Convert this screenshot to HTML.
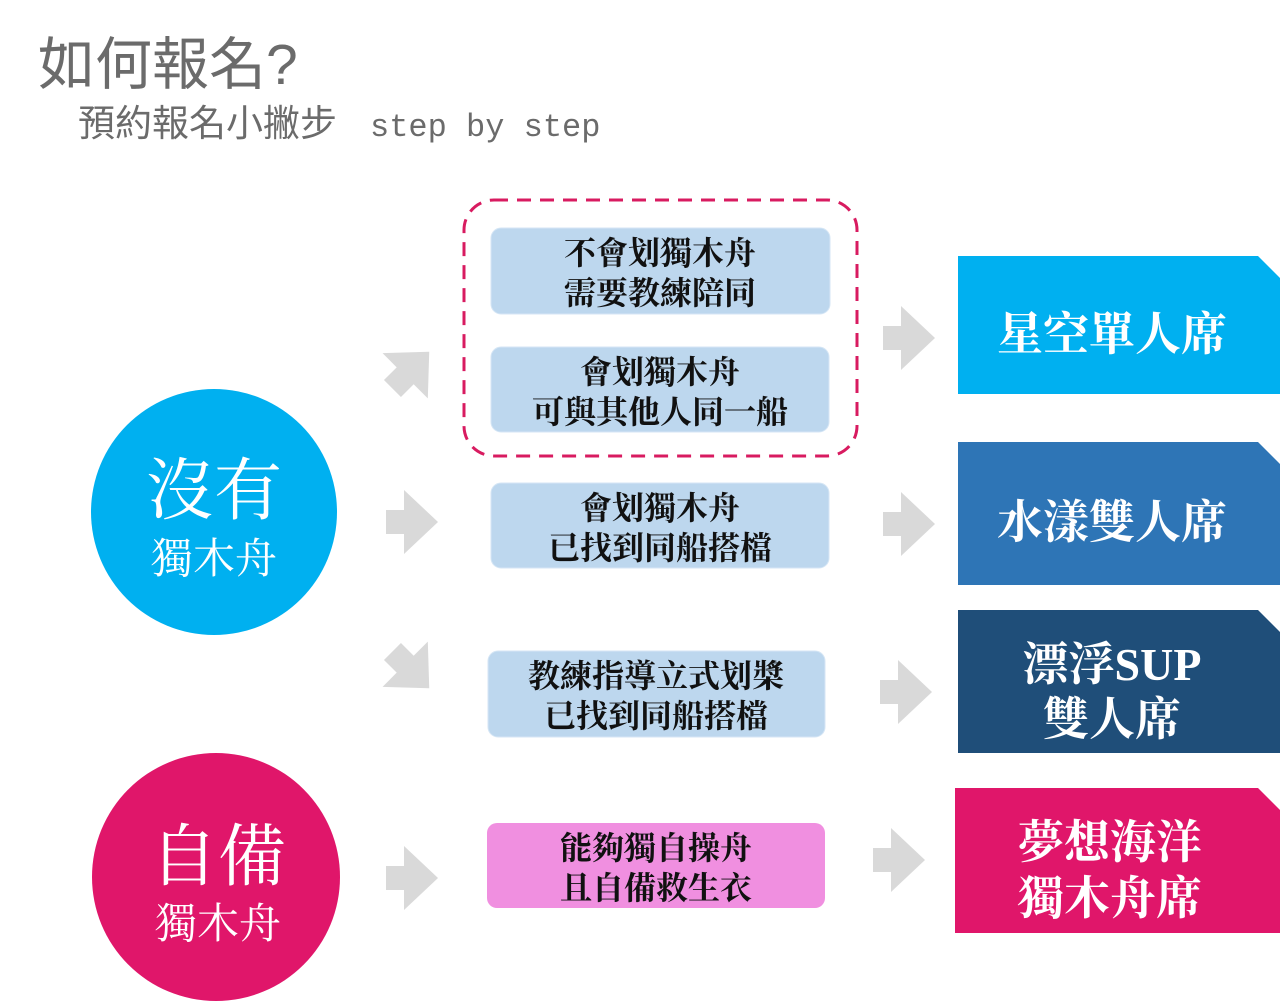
<!DOCTYPE html>
<html><head><meta charset="utf-8"><style>
html,body{margin:0;padding:0;background:#fff;}
svg{display:block}
.t{font-family:"Liberation Serif","Noto Serif CJK SC","Noto Sans CJK TC",serif;}
</style></head><body>
<svg width="1280" height="1001" viewBox="0 0 1280 1001" xmlns="http://www.w3.org/2000/svg">
<text x="38" y="84" font-family="'Liberation Sans','Noto Sans CJK TC',sans-serif" font-size="57" fill="#6b6b6b">如何報名?</text>
<text x="78" y="136" font-family="'Liberation Sans','Noto Sans CJK TC',sans-serif" font-size="37" fill="#6b6b6b">預約報名小撇步<tspan x="370" font-family="'Liberation Mono',monospace" font-size="32">step by step</tspan></text>

<rect x="464" y="200" width="393" height="256" rx="30" fill="none" stroke="#d81b60" stroke-width="3" stroke-dasharray="14,9"/>

<g fill="#bdd7ee" stroke="#d6e6f5" stroke-width="1">
<rect x="491" y="228" width="339" height="86" rx="10"/>
<rect x="491" y="347" width="338" height="85" rx="10"/>
<rect x="491" y="483" width="338" height="85" rx="10"/>
<rect x="488" y="651" width="337" height="86" rx="10"/>
</g>
<rect x="487" y="823" width="338" height="85" rx="10" fill="#f08fe0"/>

<g class="t" font-size="32" fill="#111" text-anchor="middle" font-weight="bold">
<text x="660" y="264">不會划獨木舟</text><text x="660" y="304">需要教練陪同</text>
<text x="660" y="383">會划獨木舟</text><text x="660" y="423">可與其他人同一船</text>
<text x="660" y="519">會划獨木舟</text><text x="660" y="559">已找到同船搭檔</text>
<text x="656" y="687">教練指導立式划槳</text><text x="656" y="727">已找到同船搭檔</text>
<text x="656" y="859">能夠獨自操舟</text><text x="656" y="899">且自備救生衣</text>
</g>

<circle cx="214" cy="512" r="123" fill="#00b0f0"/>
<circle cx="216" cy="877" r="124" fill="#e0166a"/>
<g class="t" fill="#fff" text-anchor="middle">
<text x="214" y="514" font-size="68">沒有</text>
<text x="214" y="573" font-size="42">獨木舟</text>
<text x="218" y="880" font-size="68">自備</text>
<text x="218" y="938" font-size="42">獨木舟</text>
</g>

<g fill="#d9d9d9">
<polygon points="0,-12 18,-12 18,-32 52,0 18,32 18,12 0,12" transform="translate(386,522)"/>
<polygon points="0,-12 18,-12 18,-32 52,0 18,32 18,12 0,12" transform="translate(386,878)"/>
<polygon points="0,-12 18,-12 18,-32 52,0 18,32 18,12 0,12" transform="translate(396,385) rotate(-45) translate(-5,0)"/>
<polygon points="0,-12 18,-12 18,-32 52,0 18,32 18,12 0,12" transform="translate(396,655) rotate(45) translate(-5,0)"/>
<polygon points="0,-12 18,-12 18,-32 52,0 18,32 18,12 0,12" transform="translate(883,338)"/>
<polygon points="0,-12 18,-12 18,-32 52,0 18,32 18,12 0,12" transform="translate(883,524)"/>
<polygon points="0,-12 18,-12 18,-32 52,0 18,32 18,12 0,12" transform="translate(880,692)"/>
<polygon points="0,-12 18,-12 18,-32 52,0 18,32 18,12 0,12" transform="translate(873,860)"/>
</g>

<polygon points="958,256 1258,256 1280,278 1280,394 958,394" fill="#00b0f0"/>
<polygon points="958,442 1258,442 1280,464 1280,585 958,585" fill="#2e75b6"/>
<polygon points="958,610 1258,610 1280,632 1280,753 958,753" fill="#1f4e79"/>
<polygon points="955,788 1258,788 1280,810 1280,933 955,933" fill="#e0166a"/>
<g class="t" fill="#fff" font-size="46" text-anchor="middle" font-weight="bold">
<text x="1112" y="350">星空單人席</text>
<text x="1112" y="538">水漾雙人席</text>
<text x="1112" y="680">漂浮SUP</text>
<text x="1112" y="735">雙人席</text>
<text x="1110" y="858">夢想海洋</text>
<text x="1110" y="914">獨木舟席</text>
</g>
</svg>
</body></html>
